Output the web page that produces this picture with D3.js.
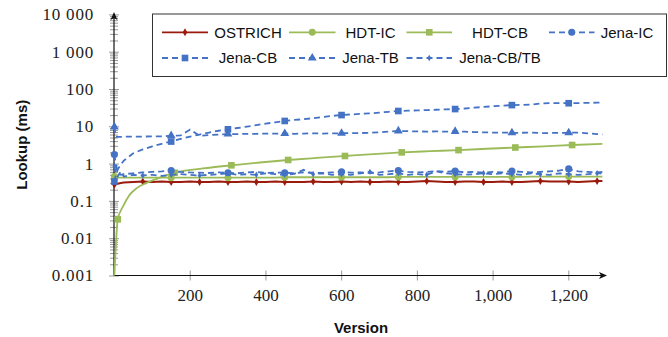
<!DOCTYPE html>
<html>
<head>
<meta charset="utf-8">
<script src="https://cdn.jsdelivr.net/npm/d3@7"></script>
<style>
  body { margin: 0; background: #fff; }
  svg { display: block; }
  .title { font-family: "Liberation Sans", Arial, sans-serif; font-weight: bold; font-size: 15px; fill: #111; }
  .legend text { font-family: "Liberation Sans", Arial, sans-serif; font-size: 15px; fill: #111; }
  .num text { font-family: "Liberation Serif", "Times New Roman", serif; font-size: 17px; fill: #222; }
</style>
</head>
<body>
<svg width="668" height="337"></svg>
<script>
// versions sampled for most series
const versions = [1, 5, 10, 18, 26, 51, 76, 101, 126, 151, 176, 201, 226, 251, 276, 301, 326, 351, 376, 401,
  426, 451, 476, 501, 526, 551, 576, 601, 626, 651, 676, 701, 726, 751, 776, 801, 826, 851, 876, 901,
  926, 951, 976, 1001, 1026, 1051, 1076, 1101, 1126, 1151, 1176, 1201, 1226, 1251, 1276, 1290];

const ostrichMs = [0.27, 0.28, 0.29, 0.30, 0.31, 0.32, 0.33, 0.32, 0.33, 0.32,
  0.32, 0.33, 0.32, 0.32, 0.33, 0.32, 0.32, 0.33, 0.32, 0.32,
  0.33, 0.32, 0.32, 0.32, 0.33, 0.32, 0.32, 0.33, 0.32, 0.33,
  0.32, 0.32, 0.33, 0.32, 0.32, 0.33, 0.34, 0.33, 0.32, 0.32,
  0.33, 0.33, 0.32, 0.32, 0.33, 0.32, 0.32, 0.33, 0.34, 0.33,
  0.33, 0.33, 0.32, 0.33, 0.34, 0.34];

const hdtIcMs = [0.45, 0.43, 0.42, 0.42, 0.42, 0.42, 0.42, 0.42, 0.42, 0.42,
  0.42, 0.42, 0.42, 0.42, 0.42, 0.42, 0.42, 0.42, 0.42, 0.42,
  0.42, 0.43, 0.43, 0.43, 0.43, 0.43, 0.43, 0.43, 0.43, 0.43,
  0.43, 0.43, 0.43, 0.44, 0.44, 0.44, 0.44, 0.44, 0.44, 0.44,
  0.44, 0.44, 0.44, 0.44, 0.44, 0.44, 0.44, 0.45, 0.45, 0.45,
  0.45, 0.45, 0.45, 0.45, 0.45, 0.45];

const jenaIcMs = [1.75, 0.9, 0.55, 0.5, 0.52, 0.55, 0.58, 0.6, 0.62, 0.65,
  0.6, 0.58, 0.57, 0.56, 0.58, 0.57, 0.55, 0.58, 0.6, 0.56,
  0.57, 0.57, 0.55, 0.58, 0.57, 0.56, 0.58, 0.6, 0.57, 0.58,
  0.56, 0.58, 0.62, 0.65, 0.6, 0.58, 0.6, 0.63, 0.6, 0.63,
  0.58, 0.6, 0.57, 0.6, 0.58, 0.63, 0.6, 0.58, 0.6, 0.62,
  0.65, 0.72, 0.62, 0.6, 0.58, 0.6];

const jenaCbMs = [0.33, 0.5, 0.7, 0.95, 1.2, 1.9, 2.4, 2.9, 3.4, 3.9,
  4.6, 5.3, 6.0, 6.8, 7.6, 8.3, 9.0, 9.8, 10.8, 11.8,
  12.8, 13.9, 14.8, 15.5, 16.5, 17.8, 19, 20, 20.8, 21.5,
  22.2, 23.3, 24.5, 25.7, 26.2, 26.7, 27.2, 27.8, 28.4, 29,
  30, 31.5, 33, 34.5, 35.8, 37, 37.5, 38, 41, 42,
  42, 41.5, 42, 42.5, 43, 43];

const jenaTbMs = [9.6, 5.2, 5.2, 5.2, 5.3, 5.3, 5.3, 5.4, 5.4, 5.6,
  5.7, 8.2, 5.6, 5.8, 6.0, 6.2, 6.2, 6.3, 6.3, 6.4,
  6.4, 6.4, 6.3, 6.4, 6.5, 6.4, 6.5, 6.5, 6.6, 6.6,
  6.7, 6.9, 7.2, 7.5, 7.4, 7.3, 7.2, 7.3, 7.2, 7.3,
  7.2, 7.0, 6.9, 6.8, 6.8, 6.7, 6.7, 6.8, 6.6, 6.6,
  6.7, 6.7, 6.8, 6.5, 6.2, 6.1];

const jenaCbTbMs = [0.85, 0.55, 0.45, 0.62, 0.45, 0.5, 0.48, 0.5, 0.47, 0.5,
  0.52, 0.5, 0.48, 0.5, 0.52, 0.55, 0.5, 0.52, 0.5, 0.55,
  0.52, 0.5, 0.53, 0.68, 0.52, 0.55, 0.5, 0.52, 0.5, 0.55,
  0.6, 0.5, 0.52, 0.55, 0.5, 0.52, 0.5, 0.62, 0.55, 0.52,
  0.5, 0.52, 0.55, 0.52, 0.55, 0.52, 0.5, 0.55, 0.52, 0.5,
  0.55, 0.52, 0.5, 0.52, 0.55, 0.55];

// HDT-CB has its own sampling
const hdtCbVersions = [1, 10, 25, 40, 60, 85, 110, 160, 235, 310, 385, 460, 535, 610, 685, 760, 835, 910, 985, 1060, 1135, 1210, 1290];
const hdtCbMs = [0.001, 0.032, 0.075, 0.14, 0.22, 0.3, 0.38, 0.57, 0.74, 0.9, 1.07, 1.25, 1.42, 1.6, 1.8, 2.0, 2.15, 2.3, 2.5, 2.7, 2.9, 3.15, 3.4];

const xTicks = [200, 400, 600, 800, 1000, 1200];
const yTicks = [0.001, 0.01, 0.1, 1, 10, 100, 1000, 10000];
const yTickLabels = ['0.001', '0.01', '0.1', '1', '10', '100', '1 000', '10 000'];

const RED = '#9a1a0c', GREEN = '#9bbb59', BLUE = '#4472c4';

const series = [
  { name: 'OSTRICH',    xs: versions,      ys: ostrichMs,  color: RED,   dash: null,  mark: 'diamond',  msize: 18, every: 75,  first: 1 },
  { name: 'HDT-IC',     xs: versions,      ys: hdtIcMs,    color: GREEN, dash: null,  mark: 'circle',   msize: 38, every: 150, first: 1 },
  { name: 'HDT-CB',     xs: hdtCbVersions, ys: hdtCbMs,    color: GREEN, dash: null,  mark: 'square',   msize: 44, every: 150, first: 10, smooth: true },
  { name: 'Jena-IC',    xs: versions,      ys: jenaIcMs,   color: BLUE,  dash: '6,4', mark: 'circle',   msize: 40, every: 150, first: 1 },
  { name: 'Jena-CB',    xs: versions,      ys: jenaCbMs,   color: BLUE,  dash: '6,4', mark: 'square',   msize: 44, every: 150, first: 1 },
  { name: 'Jena-TB',    xs: versions,      ys: jenaTbMs,   color: BLUE,  dash: '6,4', mark: 'triangle', msize: 34, every: 150, first: 1 },
  { name: 'Jena-CB/TB', xs: versions,      ys: jenaCbTbMs, color: BLUE,  dash: '6,4', mark: 'diamond',  msize: 12, every: 75,  first: 1 }
];

const symbols = {
  diamond: d3.symbolDiamond, circle: d3.symbolCircle,
  square: d3.symbolSquare, triangle: d3.symbolTriangle
};

const svg = d3.select('svg');

const x = d3.scaleLinear().domain([0, 1290]).range([114, 602.4]);
const y = d3.scaleLog().domain([0.001, 10000]).range([275.5, 14.4]);

const x0 = x(0), y0 = y(0.001);

// minor y ticks (2..9 per decade)
const minor = [];
yTicks.slice(0, -1).forEach(d => { for (let k = 2; k <= 9; k++) minor.push(d * k); });

const yMinor = svg.append('g')
  .attr('transform', `translate(${x0},0)`)
  .call(d3.axisLeft(y).tickValues(minor).tickSize(4).tickFormat(() => ''));
yMinor.select('.domain').remove();
yMinor.selectAll('.tick line').attr('x1', -4).attr('x2', 4).attr('stroke', '#9a9a9a');

const yAxis = svg.append('g')
  .attr('class', 'num')
  .attr('transform', `translate(${x0},0)`)
  .call(d3.axisLeft(y).tickValues(yTicks).tickSize(5).tickPadding(15)
    .tickFormat((d, i) => yTickLabels[i]));
yAxis.select('.domain').remove();
yAxis.selectAll('.tick line').attr('x1', -5).attr('x2', 5).attr('stroke', '#9a9a9a');
yAxis.selectAll('.tick text').attr('letter-spacing', 0.8);

const xAxis = svg.append('g')
  .attr('class', 'num')
  .attr('transform', `translate(0,${y0})`)
  .call(d3.axisBottom(x).tickValues(xTicks).tickSize(5).tickFormat(d3.format(',')));
xAxis.select('.domain').remove();
xAxis.selectAll('.tick line').attr('y1', -5).attr('y2', 5).attr('stroke', '#9a9a9a');
xAxis.selectAll('.tick text').attr('y', 13);

// axis lines with arrow heads
svg.append('line').attr('x1', x0).attr('x2', x0).attr('y1', y0).attr('y2', 15)
  .attr('stroke', '#111').attr('stroke-width', 1.2);
svg.append('path').attr('d', `M${x0},12 L${x0 - 3.5},20 L${x0},18 L${x0 + 3.5},20 Z`).attr('fill', '#111');
svg.append('line').attr('x1', x0).attr('x2', 604).attr('y1', y0).attr('y2', y0)
  .attr('stroke', '#111').attr('stroke-width', 1.2);
svg.append('path').attr('d', `M607,${y0} L599,${y0 - 3.5} L601,${y0} L599,${y0 + 3.5} Z`).attr('fill', '#111');

// series
const plot = svg.append('g');
series.forEach(s => {
  const pts = s.xs.map((v, i) => [v, s.ys[i]]);
  const line = d3.line().x(d => x(d[0])).y(d => y(d[1]))
    .curve(s.smooth ? d3.curveMonotoneX : d3.curveLinear);
  plot.append('path')
    .attr('d', line(pts))
    .attr('fill', 'none')
    .attr('stroke', s.color)
    .attr('stroke-width', s.color === RED ? 2 : 1.8)
    .attr('stroke-dasharray', s.dash);
  plot.selectAll(null)
    .data(pts.filter(d => (d[0] - s.first) % s.every === 0))
    .enter().append('path')
    .attr('d', d3.symbol(symbols[s.mark], s.msize))
    .attr('transform', d => `translate(${x(d[0])},${y(d[1])})`)
    .attr('fill', s.color);
});

// axis titles
svg.append('text').attr('class', 'title')
  .attr('transform', `translate(27,${(y0 + 14) / 2}) rotate(-90)`)
  .attr('text-anchor', 'middle').text('Lookup (ms)');
svg.append('text').attr('class', 'title')
  .attr('x', 361).attr('y', 333)
  .attr('text-anchor', 'middle').text('Version');

// legend
const legend = svg.append('g').attr('class', 'legend');
legend.append('rect').attr('x', 152.5).attr('y', 14).attr('width', 514).attr('height', 62.5)
  .attr('fill', '#fff').attr('stroke', '#333').attr('stroke-width', 1);

const rowY = [32.3, 58];
const colImg = [[162, 208], [289, 335.5], [406.5, 452], [549, 594.5]];
const colText = [248, 370.5, 500, 627];

series.forEach((s, i) => {
  const r = i < 4 ? 0 : 1, c = i < 4 ? i : i - 4;
  const yy = rowY[r], [a, b] = colImg[c];
  legend.append('line').attr('x1', a).attr('x2', b).attr('y1', yy).attr('y2', yy)
    .attr('stroke', s.color).attr('stroke-width', 1.8).attr('stroke-dasharray', s.dash);
  legend.append('path').attr('d', d3.symbol(symbols[s.mark], s.msize))
    .attr('transform', `translate(${(a + b) / 2},${yy})`).attr('fill', s.color);
  legend.append('text').attr('x', colText[c]).attr('y', yy).attr('dy', '0.35em')
    .attr('text-anchor', 'middle').text(s.name);
});
</script>
</body>
</html>
